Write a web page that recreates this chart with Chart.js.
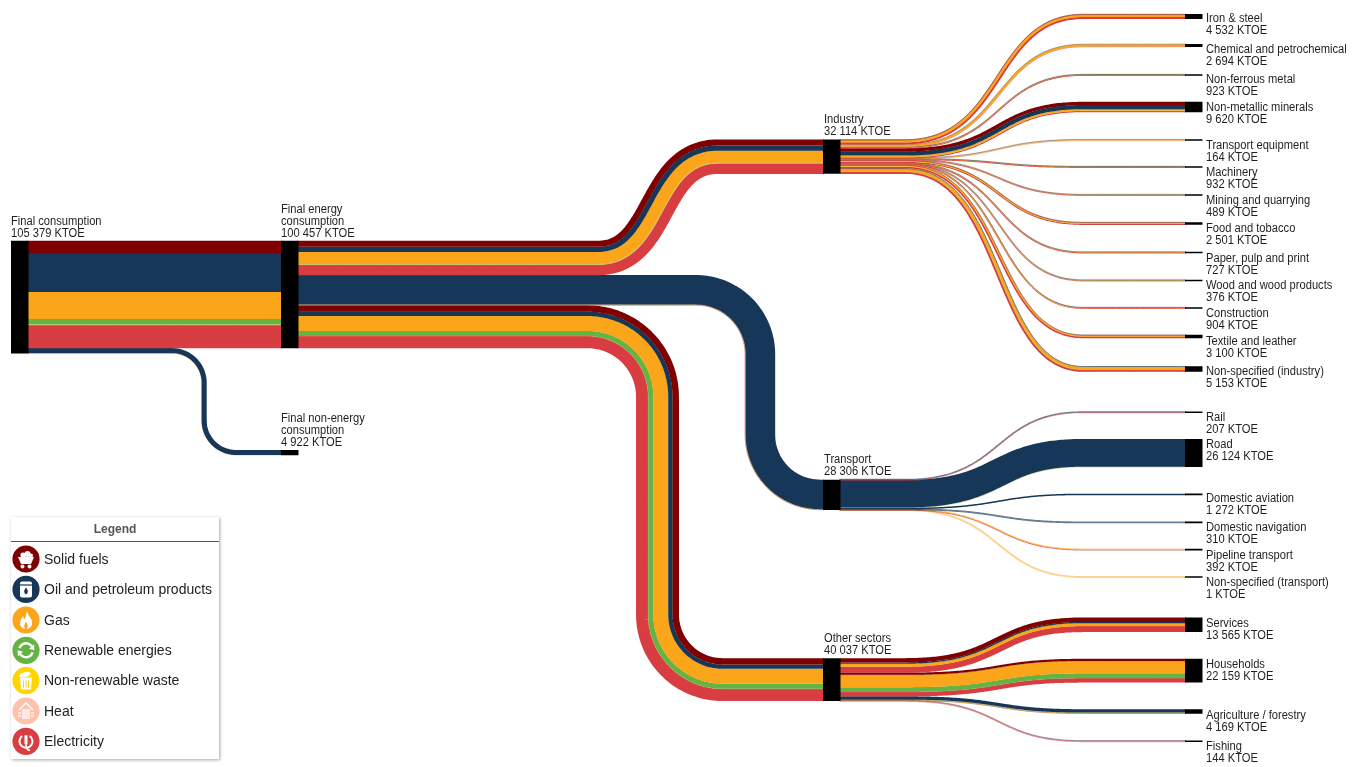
<!DOCTYPE html>
<html>
<head>
<meta charset="utf-8">
<title>Energy balance sankey</title>
<script src="https://cdn.jsdelivr.net/npm/chart.js@4"></script>
<style>html,body{margin:0;padding:0;background:#fff}canvas{display:block;filter:blur(0.3px)}</style>
</head>
<body>
<canvas id="c" width="1363" height="767"></canvas>
<script>
// ---------- data (KTOE) ----------
const fuels = ['Solid fuels','Oil and petroleum products','Gas','Renewable energies','Non-renewable waste','Heat','Electricity'];

// Final consumption -> [Final energy consumption, Final non-energy consumption]
const rootTargets = ['Final energy consumption','Final non-energy consumption'];
const rootValues  = [100457, 4922];
const rootSolid = [11500, 0];
const rootOil   = [36337, 4622];
const rootGas   = [25300, 300];
const rootRenew = [5200, 0];
const rootWaste = [320, 0];
const rootHeat  = [200, 0];
const rootElec  = [21600, 0];

// Final energy consumption -> sectors
const sectorTargets = ['Industry','Transport','Other sectors'];
const sectorValues  = [32114, 28306, 40037];
const sectorSolid = [5600, 0, 5900];
const sectorOil   = [4800, 27506, 4000];
const sectorGas   = [11200, 120, 14000];
const sectorRenew = [400, 280, 4700];
const sectorWaste = [250, 0, 50];
const sectorHeat  = [164, 0, 87];
const sectorElec  = [9700, 400, 11300];

// Industry -> branches
const industryTargets = ['Iron & steel','Chemical and petrochemical','Non-ferrous metal','Non-metallic minerals','Transport equipment','Machinery','Mining and quarrying','Food and tobacco','Paper, pulp and print','Wood and wood products','Construction','Textile and leather','Non-specified (industry)'];
const industryValues = [4532,2694,923,9620,164,932,489,2501,727,376,904,3100,5153];
const industrySolid = [400,0,0,3000,0,0,0,200,0,0,0,100,0];
const industryOil   = [100,200,150,3800,40,150,70,200,70,60,130,200,500];
const industryGas   = [2200,2000,350,1500,100,300,130,1100,250,70,420,1300,2400];
const industryRenew = [0,0,0,100,0,0,0,100,0,46,0,0,300];
const industryWaste = [0,0,0,200,0,0,0,0,0,0,0,0,150];
const industryHeat  = [0,0,0,0,0,0,0,0,0,0,0,0,0];
const industryElec  = [1832,494,423,1020,24,482,289,901,407,200,354,1500,1803];

// Transport -> modes
const transportTargets = ['Rail','Road','Domestic aviation','Domestic navigation','Pipeline transport','Non-specified (transport)'];
const transportValues = [207,26124,1272,310,392,1];
const transportSolid = [0,0,0,0,0,0];
const transportOil   = [110,25800,1272,310,0,0];
const transportGas   = [0,60,0,0,200,1];
const transportRenew = [0,264,0,0,0,0];
const transportWaste = [0,0,0,0,0,0];
const transportHeat  = [0,0,0,0,0,0];
const transportElec  = [97,0,0,0,192,0];

// Other sectors -> uses
const otherTargets = ['Services','Households','Agriculture / forestry','Fishing'];
const otherValues = [13565,22159,4169,144];
const otherSolid = [4000,1900,0,0];
const otherOil   = [1200,100,3000,30];
const otherGas   = [2800,11609,300,0];
const otherRenew = [0,4400,400,0];
const otherWaste = [0,0,0,0];
const otherHeat  = [0,50,0,0];
const otherElec  = [5565,4100,469,114];

const rootLabel = 'Final consumption';
const rootTotal = 105379;

// ---------- styling and layout (separate from the data) ----------
const fuelColors = ['#7f0000','#163757','#fba51a','#66b345','#ffd500','#fcc2ac','#d83d41'];
const KTOE_PX = 112.6 / 105379;
const NODE_W = 17.5;
const COL = [11, 281, 823, 1185];
const ROOT_TOP = 240.8;
const THIN_LIMIT = 1.2, THIN_DRAW = 1.5, MIN_NODE = 1.6, TEXT_SQUEEZE = 0.93;
const rootTargetTops = [240.8, 450];
const sectorTops = [139.5, 479.7, 658.2];
const industryCentres = [16.5,45.5,75,107,140,167,195,223.5,252.5,280.5,308,336.5,369];
const transportCentres = [412.2,453,494.4,522.4,549.6,577];
const otherCentres = [624.8,670.7,711.5,741.2];

const labelFirstLines = {
  industry:[18.5,49.5,79.5,107.5,145,172.5,200.5,228,258,285.5,313.5,341,371.5],
  transport:[417.5,444.5,498.5,527.5,555,582.5],
  other:[623.5,664.5,715,746]
};

// ---------- route geometry ----------
function cubic(p0,c1,c2,p1,n){const out=[];for(let i=0;i<=n;i++){const t=i/n,u=1-t;
  const f=j=>u*u*u*p0[j]+3*u*u*t*c1[j]+3*u*t*t*c2[j]+t*t*t*p1[j];
  const d=j=>3*u*u*(c1[j]-p0[j])+6*u*t*(c2[j]-c1[j])+3*t*t*(p1[j]-c2[j]);
  out.push([f(0),f(1),d(0),d(1)]);}return out;}
function withNormals(pts){return pts.map(p=>{const l=Math.hypot(p[2],p[3])||1;return {x:p[0],y:p[1],nx:-p[3]/l,ny:p[2]/l};});}
function straight(x0,x1,y){return withNormals([[x0,y,1,0],[x1,y,1,0]]);}
function sBend(x0,y0,x1,y1,xa,xb,ca,cb){
  const pts=[[x0,y0,1,0]];
  pts.push(...cubic([xa,y0],[ca,y0],[cb,y1],[xb,y1],60));
  pts.push([x1,y1,1,0]);
  return withNormals(pts);
}
// two rounded corners: horizontal, vertical at xv, horizontal
function tube(x0,y0,x1,y1,xv,r0,r1){
  const s=Math.sign(y1-y0),k=0.5523,pts=[[x0,y0,1,0]];
  pts.push(...cubic([xv-r0,y0],[xv-r0+k*r0,y0],[xv,y0+s*(r0-k*r0)],[xv,y0+s*r0],24));
  pts.push(...cubic([xv,y1-s*r1],[xv,y1-s*r1+s*k*r1],[xv+r1-k*r1,y1],[xv+r1,y1],24));
  pts.push([x1,y1,1,0]);
  return withNormals(pts);
}

const datasets=[], nodes=[];
// a tiny tension keeps Chart.js from merging points that fall in one pixel column
const LINE_TENSION = 0.0001;
function alphaHex(a){return Math.round(a*255).toString(16).padStart(2,'0');}
function strands(values,route){
  const real=values.reduce((a,b)=>a+b,0)*KTOE_PX;
  const thin=real<THIN_LIMIT;
  const scale=thin?THIN_DRAW/real:1;
  const alpha=thin?Math.min(0.5+0.45*real,0.9):1;
  const total=real*scale;let cum=-total/2;
  values.forEach((v,f)=>{ if(!v) return; const w=v*KTOE_PX*scale,off=cum+w/2;cum+=w;
    datasets.push({data:route.map(p=>({x:p.x+p.nx*off,y:p.y+p.ny*off})),
      borderColor:fuelColors[f]+alphaHex(alpha),
      borderWidth:thin?w+0.4:w+0.15,borderCapStyle:'butt',borderJoinStyle:'round',pointRadius:0,tension:LINE_TENSION,order:2});
  });
}
function row(arrs,i){return arrs.map(a=>a[i]);}
function addNode(x,top,value,lines,ly){nodes.push({x,top,value,lines,ly});}

// nodes
const h=v=>v*KTOE_PX;
addNode(COL[0],ROOT_TOP,rootTotal,[rootLabel],221.5);
addNode(COL[1],rootTargetTops[0],rootValues[0],['Final energy','consumption'],209.5);
addNode(COL[1],rootTargetTops[1],rootValues[1],['Final non-energy','consumption'],418.5);
const sectorLabelY=[119.5,459.5,638];
sectorTargets.forEach((n,i)=>addNode(COL[2],sectorTops[i],sectorValues[i],[n],sectorLabelY[i]));
function leaf(names,vals,cs,ly){names.forEach((n,i)=>{const t=Math.max(h(vals[i]),MIN_NODE);addNode(COL[3],cs[i]-t/2,vals[i],[n],ly[i]);});}
leaf(industryTargets,industryValues,industryCentres,labelFirstLines.industry);
leaf(transportTargets,transportValues,transportCentres,labelFirstLines.transport);
leaf(otherTargets,otherValues,otherCentres,labelFirstLines.other);

// root flows
const rootArrs=[rootSolid,rootOil,rootGas,rootRenew,rootWaste,rootHeat,rootElec];
const r0=row(rootArrs,0), r1=row(rootArrs,1);
const r0w=h(rootValues[0]), r1w=h(rootValues[1]);
const xR=COL[0]+NODE_W;
strands(r0,straight(xR-1,COL[1]+1,ROOT_TOP+r0w/2));
strands(r1,tube(xR-1,ROOT_TOP+r0w+r1w/2,COL[1]+1,rootTargetTops[1]+r1w/2,204,32,32));

// sector flows
const secArrs=[sectorSolid,sectorOil,sectorGas,sectorRenew,sectorWaste,sectorHeat,sectorElec];
let y=rootTargetTops[0];
const sx=COL[1]+NODE_W-1, ex=COL[2]+1;
const sw=sectorValues.map(h);
strands(row(secArrs,0),sBend(sx,y+sw[0]/2,ex,sectorTops[0]+sw[0]/2,598,718,662,652));
y+=sw[0];
strands(row(secArrs,1),tube(sx,y+sw[1]/2,ex,sectorTops[1]+sw[1]/2,760,64,60));
y+=sw[1];
strands(row(secArrs,2),tube(sx,y+sw[2]/2,ex,sectorTops[2]+sw[2]/2,657.5,70,65));

// leaf flows
function fan(arrs,vals,top,centres){
  let yy=top;const x0=COL[2]+NODE_W-1,x1=COL[3]+1;
  vals.forEach((v,i)=>{const w=h(v);
    strands(row(arrs,i),sBend(x0,yy+w/2,x1,centres[i],905,1083,1005,992));
    yy+=w;});
}
fan([industrySolid,industryOil,industryGas,industryRenew,industryWaste,industryHeat,industryElec],industryValues,sectorTops[0],industryCentres);
fan([transportSolid,transportOil,transportGas,transportRenew,transportWaste,transportHeat,transportElec],transportValues,sectorTops[1],transportCentres);
fan([otherSolid,otherOil,otherGas,otherRenew,otherWaste,otherHeat,otherElec],otherValues,sectorTops[2],otherCentres);

// node bars (drawn on top)
nodes.forEach(n=>{const t=Math.max(h(n.value),MIN_NODE),cx=n.x+NODE_W/2;
  datasets.push({data:[{x:cx,y:n.top},{x:cx,y:n.top+t}],borderColor:'#000',borderWidth:NODE_W,borderCapStyle:'butt',pointRadius:0,tension:0,order:1});
});

const fmt=v=>String(v).replace(/\B(?=(\d{3})+$)/g,' ')+' KTOE';

// ---------- legend glyphs ----------
const glyphs=[
 function(c){c.beginPath();c.moveTo(-8,-2);c.lineTo(8,-2);c.lineTo(5,5);c.lineTo(-5,5);c.closePath();c.fill();
   c.beginPath();c.arc(-3.5,7.5,2,0,7);c.arc(3.5,7.5,2,0,7);c.fill();
   c.beginPath();c.arc(-3,-4,2.6,0,7);c.arc(1.5,-5,3,0,7);c.arc(5,-3.6,2,0,7);c.fill();},
 function(c){c.beginPath();c.roundRect(-6,-8,12,16,2);c.fill();
   c.fillStyle='#163757';c.fillRect(-6,-5,12,1.2);
   c.beginPath();c.moveTo(0,-2);c.quadraticCurveTo(3.6,2.5,0,5);c.quadraticCurveTo(-3.6,2.5,0,-2);c.fill();},
 function(c){c.beginPath();c.moveTo(1,-9);c.bezierCurveTo(2,-4,7,-1,6,4);c.bezierCurveTo(5.4,8,2,9,0,9);c.bezierCurveTo(-3,9,-6,7,-6,3);c.bezierCurveTo(-6,0,-4,-2,-3,-4);c.bezierCurveTo(-2.5,-2,-2,-1,-1,-1);c.bezierCurveTo(0,-4,0,-6,1,-9);c.fill();
   c.fillStyle='#fba51a';c.beginPath();c.moveTo(0,2);c.bezierCurveTo(2,4,2.5,9,0,9);c.bezierCurveTo(-2.5,9,-2,4,0,2);c.fill();},
 function(c){c.strokeStyle='#fff';c.lineWidth=2.4;c.beginPath();c.arc(0,0,7,Math.PI*1.1,Math.PI*1.8);c.stroke();c.beginPath();c.arc(0,0,7,Math.PI*0.1,Math.PI*0.8);c.stroke();
   c.beginPath();c.moveTo(8,-6);c.lineTo(8.4,0);c.lineTo(3,-1.5);c.fill();c.beginPath();c.moveTo(-8,6);c.lineTo(-8.4,0);c.lineTo(-3,1.5);c.fill();},
 function(c){c.beginPath();c.moveTo(-6,-3);c.lineTo(6,-3);c.lineTo(5,9);c.lineTo(-5,9);c.closePath();c.fill();
   c.save();c.translate(-1,-6);c.rotate(-0.25);c.beginPath();c.ellipse(0,0,6,2.4,0,0,7);c.fill();c.restore();
   c.strokeStyle='#ffd500';c.lineWidth=1;[-2.5,0,2.5].forEach(x=>{c.beginPath();c.moveTo(x,0);c.lineTo(x,7);c.stroke();});},
 function(c){c.strokeStyle='#fff';c.lineWidth=1.3;c.beginPath();c.moveTo(-7,-1);c.lineTo(0,-8);c.lineTo(7,-1);c.stroke();
   [-3,-1,1,3].forEach(x=>{c.beginPath();c.moveTo(x,-2);c.lineTo(x,8);c.stroke();});
   [[-8,2,-5,2],[5,2,8,2],[-8,5,-5,5],[5,5,8,5]].forEach(s=>{c.beginPath();c.moveTo(s[0],s[1]);c.lineTo(s[2],s[3]);c.stroke();});},
 function(c){c.strokeStyle='#fff';c.lineWidth=2;c.beginPath();c.arc(0,0,6.5,Math.PI*1.7,Math.PI*1.3);c.stroke();
   c.beginPath();c.moveTo(0,-6);c.lineTo(0,3);c.lineWidth=3;c.stroke();c.lineWidth=1.6;c.beginPath();c.moveTo(0,3);c.quadraticCurveTo(0,9,4,9);c.stroke();}
];

function squeezedText(c,t,x,y){c.save();c.translate(x,y);c.scale(TEXT_SQUEEZE,1);c.fillText(t,0,0);c.restore();}

const annotate={id:'annotate',afterDatasetsDraw(chart){
  const c=chart.ctx,X=chart.scales.x,Y=chart.scales.y;
  c.save();
  c.font='12px "Liberation Sans", Arial, sans-serif';c.textBaseline='middle';c.textAlign='left';c.fillStyle='#1f1f1f';
  nodes.forEach(n=>{
    const isLeaf=n.x===COL[3];
    const tx=isLeaf?1206:(n.x===COL[2]?824:n.x);
    let ly=n.ly+0.5;
    n.lines.concat([fmt(n.value)]).forEach((t,i)=>{squeezedText(c,t,X.getPixelForValue(tx),Y.getPixelForValue(ly+i*11.9));});
  });
  // legend
  c.save();c.shadowColor='rgba(0,0,0,0.35)';c.shadowBlur=3;c.shadowOffsetX=1;c.shadowOffsetY=1;c.fillStyle='#fff';c.fillRect(11,517,208,242);c.restore();
  c.strokeStyle='#555';c.lineWidth=1;c.beginPath();c.moveTo(11,541.5);c.lineTo(219,541.5);c.stroke();
  c.font='bold 12px "Liberation Sans", Arial, sans-serif';c.fillStyle='#555';c.textAlign='center';c.fillText('Legend',115,529.5);
  const ys=[559,589.4,620,650.3,680.6,711,741.3];
  fuels.forEach((f,i)=>{
    c.fillStyle=fuelColors[i];c.beginPath();c.arc(26,ys[i],13.6,0,Math.PI*2);c.fill();
    c.save();c.translate(26,ys[i]);c.fillStyle='#fff';glyphs[i](c);c.restore();
    c.font='14px "Liberation Sans", Arial, sans-serif';c.fillStyle='#222';c.textAlign='left';c.fillText(f,44,ys[i]+0.7);
  });
  c.restore();
}};

new Chart(document.getElementById('c'),{
  type:'line',
  data:{datasets},
  options:{responsive:false,animation:false,devicePixelRatio:1,events:[],
    layout:{padding:0},
    plugins:{legend:{display:false},tooltip:{enabled:false},title:{display:false}},
    scales:{x:{type:'linear',min:0,max:1363,display:false},y:{type:'linear',min:0,max:767,reverse:true,display:false}}
  },
  plugins:[annotate]
});
</script>
</body>
</html>
